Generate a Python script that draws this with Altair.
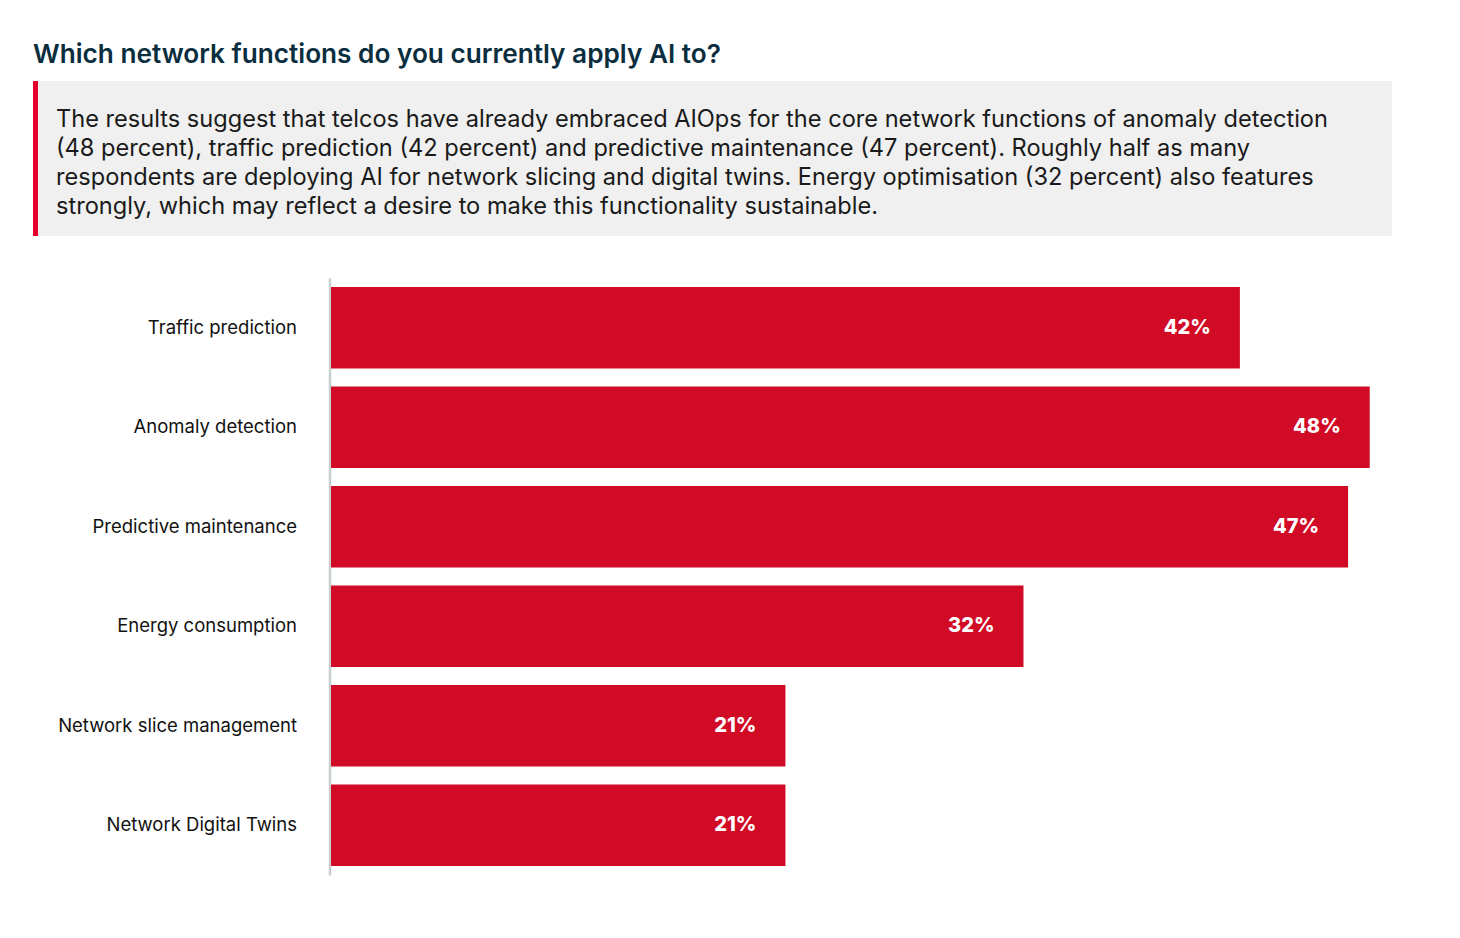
import altair as alt
import pandas as pd

categories = ["Traffic prediction", "Anomaly detection", "Predictive maintenance",
              "Energy consumption", "Network slice management", "Network Digital Twins"]
values = [42, 48, 47, 32, 21, 21]
value_labels = ["42%", "48%", "47%", "32%", "21%", "21%"]

title_text = "Which network functions do you currently apply AI to?"
summary_lines = [
    "The results suggest that telcos have already embraced AIOps for the core network functions of anomaly detection",
    "(48 percent), traffic prediction (42 percent) and predictive maintenance (47 percent). Roughly half as many",
    "respondents are deploying AI for network slicing and digital twins. Energy optimisation (32 percent) also features",
    "strongly, which may reflect a desire to make this functionality sustainable.",
]

FONT = "Inter"
RED = "#D10A25"

df = pd.DataFrame({"category": categories, "value": values, "label": value_labels})
one = pd.DataFrame({"k": [0]})

y_enc = alt.Y(
    "category:N",
    sort=categories,
    scale=alt.Scale(paddingInner=0.18, paddingOuter=0.09),
    axis=alt.Axis(
        title=None,
        ticks=False,
        tickSize=0,
        grid=False,
        domain=True,
        domainColor="#c9cfcf",
        domainWidth=2.5,
        offset=1.5,
        labelPadding=33,
        labelFont=FONT,
        labelFontSize=18.5,
        labelColor="#111111",
        labelLimit=400,
    ),
)
x_enc = alt.X("value:Q", scale=alt.Scale(domain=[0, 50]), axis=None)

bars = alt.Chart(df).mark_bar(color=RED).encode(x=x_enc, y=y_enc)

labels = alt.Chart(df).mark_text(
    align="right", baseline="middle", dx=-29, dy=0, color="white",
    font=FONT, fontSize=20, fontWeight=800
).encode(x=x_enc, y=y_enc, text="label:N")

box = alt.Chart(one).mark_rect(color="#f0f0f0").encode(
    x=alt.value(-298), x2=alt.value(1061), y=alt.value(-197), y2=alt.value(-42)
)
accent = alt.Chart(one).mark_rect(color="#E4002B").encode(
    x=alt.value(-298), x2=alt.value(-293), y=alt.value(-197), y2=alt.value(-42)
)
summary = alt.Chart(one).mark_text(
    text=summary_lines, align="left", baseline="alphabetic", lineHeight=29,
    font=FONT, fontSize=23.6, color="#1a1a1a"
).encode(x=alt.value(-275), y=alt.value(-151))

title = alt.Chart(one).mark_text(
    text=title_text, align="left", baseline="alphabetic",
    font=FONT, fontSize=26.2, fontWeight=600, color="#0b2e3f"
).encode(x=alt.value(-298), y=alt.value(-215))

chart = alt.layer(box, accent, summary, title, bars, labels).properties(
    width=1082,
    height=597,
    autosize=alt.AutoSizeParams(type="none"),
    padding={"left": 323, "top": 270, "right": 30, "bottom": 50},
).configure_view(stroke=None)

chart.save("out.html", embed_options={"renderer": "svg", "actions": False})
